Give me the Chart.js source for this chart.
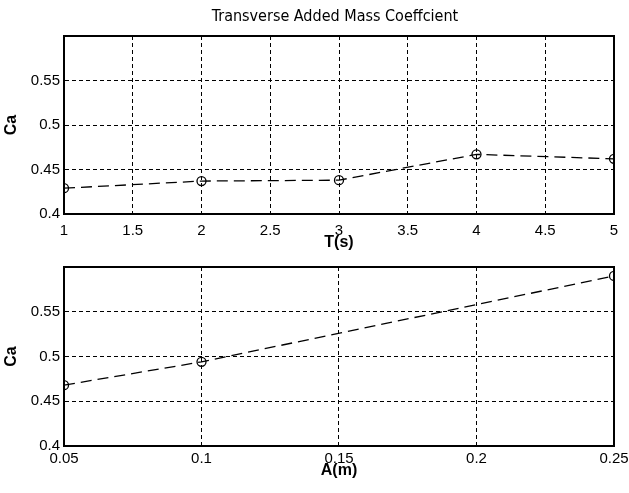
<!DOCTYPE html>
<html lang="en">
<head>
    <meta charset="UTF-8">
    <title>Transverse Added Mass Coeffcient</title>
    <script src="https://cdn.jsdelivr.net/npm/chart.js"></script>
    <style>
        body { margin: 0; background: #fff; }
        .box { position: absolute; left: 0; width: 629px; }
        #top-box { top: 0; height: 250px; }
        #bottom-box { top: 250px; height: 243px; }
    </style>
</head>
<body>
    <div class="box" id="top-box"><canvas id="chart-top"></canvas></div>
    <div class="box" id="bottom-box"><canvas id="chart-bottom"></canvas></div>

    <script>
        // data
        const periods = [1, 2, 3, 4, 5];                      // T(s)
        const caByPeriod = [0.429, 0.437, 0.438, 0.467, 0.462];
        const amplitudes = [0.05, 0.1, 0.25];                 // A(m)
        const caByAmplitude = [0.468, 0.494, 0.590];

        const periodTicks = [1, 1.5, 2, 2.5, 3, 3.5, 4, 4.5, 5];
        const amplitudeTicks = [0.05, 0.1, 0.15, 0.2, 0.25];
        const caTicks = [0.4, 0.45, 0.5, 0.55, 0.6];
        const caTickLabels = ['0.4', '0.45', '0.5', '0.55', ''];

        const chartTitle = 'Transverse Added Mass Coeffcient';

        const tickFont = { family: 'Liberation Sans, Arial, sans-serif', size: 15 };
        const labelFont = { family: 'Liberation Sans, Arial, sans-serif', size: 16, weight: 'bold' };

        // black box round the plot area, like the original
        const framePlugin = {
            id: 'frame',
            afterDraw(chart) {
                const a = chart.chartArea;
                const ctx = chart.ctx;
                ctx.save();
                ctx.strokeStyle = '#000';
                ctx.lineWidth = 2;
                ctx.strokeRect(a.left, a.top, a.right - a.left, a.bottom - a.top);
                ctx.restore();
            }
        };

        const titlePlugin = {
            id: 'plotTitle',
            afterDraw(chart, args, opts) {
                if (!opts.text) return;
                const a = chart.chartArea;
                const ctx = chart.ctx;
                ctx.save();
                ctx.fillStyle = '#000';
                ctx.font = '16px "Liberation Sans Narrow", "DejaVu Sans Condensed", Arial, sans-serif';
                ctx.textAlign = 'center';
                ctx.textBaseline = 'middle';
                ctx.fillText(opts.text, (a.left + a.right) / 2 - 4, 17);
                ctx.restore();
            }
        };

        function makeChart(id, xs, ys, xTicks, xLabel, opts) {
            const ctx = document.getElementById(id).getContext('2d');
            return new Chart(ctx, {
                type: 'line',
                data: {
                    datasets: [{
                        data: xs.map((x, i) => ({ x: x, y: ys[i] })),
                        borderColor: '#000',
                        borderWidth: 1.3,
                        borderDash: [11, 6],
                        pointStyle: 'circle',
                        pointRadius: 4.5,
                        pointBorderWidth: 1.3,
                        pointBorderColor: '#000',
                        pointBackgroundColor: 'rgba(0,0,0,0)',
                        tension: 0
                    }]
                },
                options: {
                    responsive: true,
                    maintainAspectRatio: false,
                    animation: false,
                    layout: { padding: { top: opts.padTop, right: 15, left: 0, bottom: 0 } },
                    plugins: {
                        legend: { display: false },
                        tooltip: { enabled: false },
                        plotTitle: { text: opts.title || '' }
                    },
                    scales: {
                        x: {
                            type: 'linear',
                            min: xTicks[0],
                            max: xTicks[xTicks.length - 1],
                            afterBuildTicks: (scale) => { scale.ticks = xTicks.map(v => ({ value: v })); },
                            afterFit: (scale) => {
                                scale.height = opts.xHeight;
                                scale.paddingLeft = 0;
                                scale.paddingRight = 0;
                            },
                            ticks: {
                                autoSkip: false,
                                maxRotation: 0,
                                padding: opts.xTickPad,
                                color: '#000',
                                font: tickFont,
                                callback: (v, i) => String(xTicks[i])
                            },
                            grid: { color: '#000', lineWidth: 1, drawTicks: false },
                            border: { display: true, color: '#000', width: 2, dash: [4, 3] },
                            title: { display: true, text: xLabel, color: '#000', font: labelFont, padding: { top: 0, bottom: opts.xTitlePad } }
                        },
                        y: {
                            type: 'linear',
                            min: caTicks[0],
                            max: caTicks[caTicks.length - 1],
                            afterBuildTicks: (scale) => { scale.ticks = caTicks.map(v => ({ value: v })); },
                            afterFit: (scale) => { scale.width = 64; },
                            ticks: {
                                padding: 4,
                                color: '#000',
                                font: tickFont,
                                callback: (v, i) => caTickLabels[i]
                            },
                            grid: { color: '#000', lineWidth: 1, drawTicks: false },
                            border: { display: true, color: '#000', width: 2, dash: [4, 3] },
                            title: { display: true, text: 'Ca', color: '#000', font: labelFont, padding: { top: 2, bottom: 0 } }
                        }
                    }
                },
                plugins: [framePlugin, titlePlugin]
            });
        }

        makeChart('chart-top', periods, caByPeriod, periodTicks, 'T(s)',
            { padTop: 36, xHeight: 36, xTickPad: 8, xTitlePad: -2, title: chartTitle });
        makeChart('chart-bottom', amplitudes, caByAmplitude, amplitudeTicks, 'A(m)',
            { padTop: 17, xHeight: 47, xTickPad: 4, xTitlePad: 13 });
    </script>
</body>
</html>
